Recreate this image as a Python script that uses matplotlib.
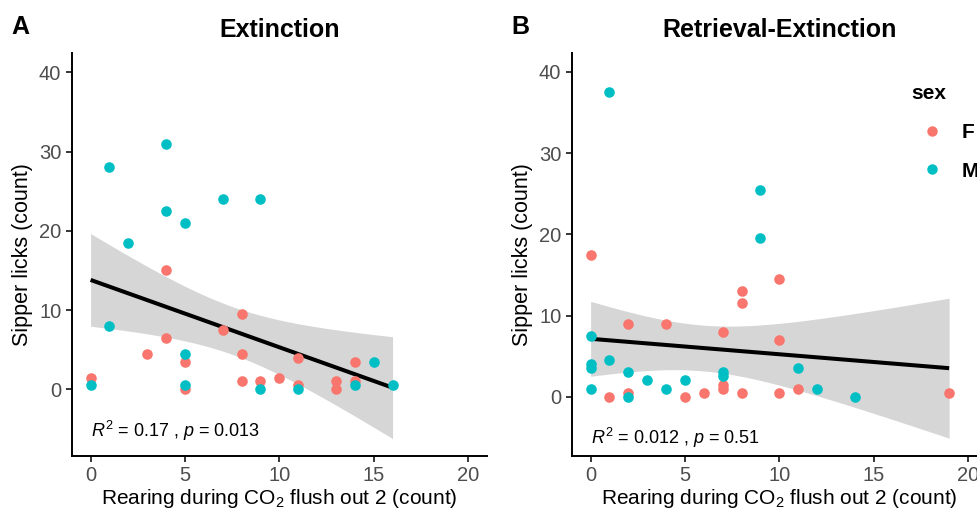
import matplotlib
matplotlib.use("Agg")
import matplotlib.pyplot as plt
from matplotlib.lines import Line2D
import numpy as np

plt.rcParams["font.family"] = ["Liberation Sans", "DejaVu Sans"]
plt.rcParams["mathtext.fontset"] = "custom"
plt.rcParams["mathtext.rm"] = "Liberation Sans"
plt.rcParams["mathtext.it"] = "Liberation Sans:italic"

COL_F = "#F8766D"
COL_M = "#00BFC4"

# Panel A: Extinction
ext_f_x = [4, 8, 7, 4, 3, 8, 5, 11, 14, 0, 8, 9, 10, 11, 13, 13, 14, 5]
ext_f_y = [15, 9.5, 7.5, 6.5, 4.5, 4.5, 3.5, 4, 3.5, 1.5, 1, 1, 1.5, 0.5, 1, 0, 1, 0]
ext_m_x = [1, 4, 7, 9, 4, 5, 2, 1, 5, 0, 5, 9, 11, 14, 15, 16]
ext_m_y = [28, 31, 24, 24, 22.5, 21, 18.5, 8, 4.5, 0.5, 0.5, 0, 0, 0.5, 3.5, 0.5]

# Panel B: Retrieval-Extinction
ret_f_x = [0, 10, 8, 8, 2, 4, 7, 10, 1, 2, 5, 6, 7, 7, 8, 10, 11, 19]
ret_f_y = [17.5, 14.5, 13, 11.5, 9, 9, 8, 7, 0, 0.5, 0, 0.5, 1.5, 1, 0.5, 0.5, 1, 0.5]
ret_m_x = [1, 9, 9, 0, 0, 0, 1, 2, 3, 4, 5, 7, 7, 11, 12, 14, 0, 2]
ret_m_y = [37.5, 25.5, 19.5, 7.5, 4, 3.5, 4.5, 3, 2, 1, 2, 3, 2.5, 3.5, 1, 0, 1, 0]

titles = ["Extinction", "Retrieval-Extinction"]
tags = ["A", "B"]
stat_labels = [r"$\mathit{R}^{2}$ = 0.17 , $\mathit{p}$ = 0.013",
               r"$\mathit{R}^{2}$ = 0.012 , $\mathit{p}$ = 0.51"]
xlabel = r"Rearing during CO$_2$ flush out 2 (count)"
ylabel = "Sipper licks (count)"


def fit_ci(x, y, grid):
    # ordinary least squares with 95% confidence band, like geom_smooth(method="lm")
    x = np.asarray(x, float)
    y = np.asarray(y, float)
    n = len(x)
    b, a = np.polyfit(x, y, 1)
    resid = y - (a + b * x)
    s = np.sqrt(np.sum(resid ** 2) / (n - 2))
    sxx = np.sum((x - x.mean()) ** 2)
    se = s * np.sqrt(1 / n + (grid - x.mean()) ** 2 / sxx)
    t = 2.03  # t(0.975, ~34 df)
    fit = a + b * grid
    return fit, fit - t * se, fit + t * se


fig = plt.figure(figsize=(9.77, 5.12), dpi=100)
positions = [[0.0734, 0.1094, 0.425, 0.7865], [0.5852, 0.1094, 0.4249, 0.7865]]
ylims = [(-8.4, 42.4), (-7.3, 42.3)]
panels = [(ext_f_x, ext_f_y, ext_m_x, ext_m_y), (ret_f_x, ret_f_y, ret_m_x, ret_m_y)]
stat_y = [-5.3, -5.1]

for i, (fx, fy, mx, my) in enumerate(panels):
    ax = fig.add_axes(positions[i])
    all_x = np.array(fx + mx, float)
    all_y = np.array(fy + my, float)
    grid = np.linspace(all_x.min(), all_x.max(), 80)
    fit, lo, hi = fit_ci(all_x, all_y, grid)
    ax.fill_between(grid, lo, hi, color="#D6D6D6", lw=0, zorder=1)
    ax.plot(grid, fit, color="black", lw=2.9, zorder=2, solid_capstyle="butt")
    ax.scatter(fx, fy, s=58, color=COL_F, lw=0, zorder=3)
    ax.scatter(mx, my, s=58, color=COL_M, lw=0, zorder=3)

    ax.set_xlim(-1, 21)
    ax.set_ylim(*ylims[i])
    ax.set_xticks([0, 5, 10, 15, 20])
    ax.set_yticks([0, 10, 20, 30, 40])
    for side in ["top", "right"]:
        ax.spines[side].set_visible(False)
    for side in ["left", "bottom"]:
        ax.spines[side].set_linewidth(1.4)
    ax.tick_params(length=4.5, width=1.1, labelsize=14.5, labelcolor="#4D4D4D", pad=3)
    ax.set_xlabel(xlabel, fontsize=15, labelpad=1)
    ax.set_ylabel(ylabel, fontsize=15.5, labelpad=4)
    ax.set_title(titles[i], fontsize=18, fontweight="bold", pad=12)
    ax.text(0, stat_y[i], stat_labels[i], fontsize=13, va="center", ha="left")

fig.text(0.012, 0.947, tags[0], fontsize=18, fontweight="bold", va="center")
fig.text(0.523, 0.947, tags[1], fontsize=18, fontweight="bold", va="center")

handles = [Line2D([], [], marker="o", ls="", color=COL_F, markersize=7.5, markeredgewidth=0),
           Line2D([], [], marker="o", ls="", color=COL_M, markersize=7.5, markeredgewidth=0)]
leg = fig.legend(handles, ["F", "M"], title="sex", loc="upper left",
                 bbox_to_anchor=(0.933, 0.835), frameon=False, fontsize=15,
                 title_fontproperties={"weight": "bold", "size": 15},
                 handletextpad=0.4, labelspacing=0.95, alignment="left",
                 borderaxespad=0, borderpad=0)
leg._legend_box.sep = 14
for t in leg.get_texts():
    t.set_fontweight("bold")

fig.savefig("out.png", dpi=100)
